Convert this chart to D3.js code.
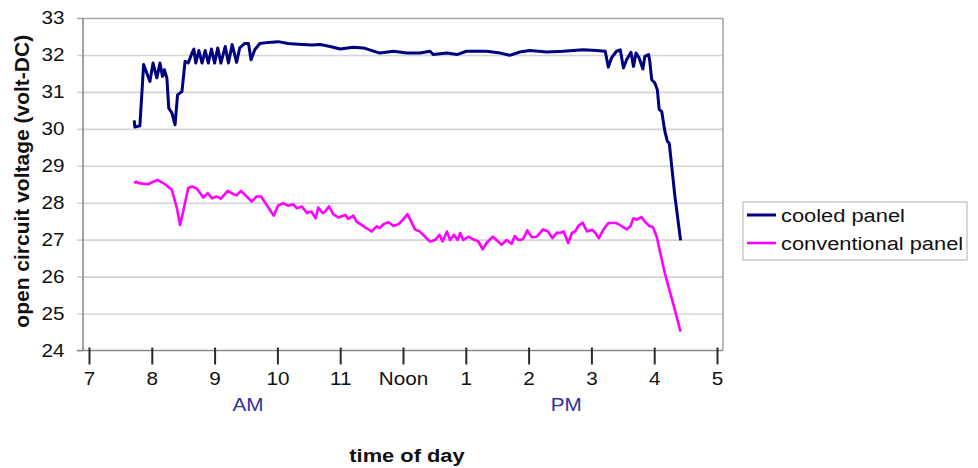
<!DOCTYPE html>
<html lang="en">
<head>
<meta charset="UTF-8">
<title>Open circuit voltage vs time of day</title>
<style>
  body { margin: 0; background: #fff; }
  svg text { font-family: Arial, "Liberation Sans", sans-serif; fill: #111; }
</style>
</head>
<body>
<svg id="chart" width="978" height="468"></svg>
<script src="https://d3js.org/d3.v7.min.js"></script>
<script>
    // tick values / labels
    const hourTicks = [7, 8, 9, 10, 11, 12, 13, 14, 15, 16, 17];
    const hourLabels = ["7", "8", "9", "10", "11", "Noon", "1", "2", "3", "4", "5"];
    const voltTicks = [24, 25, 26, 27, 28, 29, 30, 31, 32, 33];
    const periodNames = ["AM", "PM"];
    const periodHours = [9.53, 14.6];
    const seriesNames = ["cooled panel", "conventional panel"];

    // cooled panel (hours, volts)
    const cooledTime = [7.72, 7.73, 7.81, 7.87, 7.92, 7.97, 8.02, 8.08, 8.13, 8.17, 8.20, 8.24, 8.27, 8.32, 8.37,
        8.41, 8.48, 8.53, 8.58, 8.64, 8.67, 8.70, 8.75, 8.80, 8.85, 8.90, 8.95, 9.00, 9.05, 9.10, 9.17, 9.22,
        9.28, 9.35, 9.40, 9.48, 9.54, 9.58, 9.64, 9.72, 9.86, 10.01, 10.17, 10.33, 10.55, 10.68, 10.84, 11.00,
        11.21, 11.37, 11.63, 11.85, 12.06, 12.27, 12.43, 12.48, 12.70, 12.86, 13.01, 13.33, 13.55, 13.70, 13.86,
        14.02, 14.29, 14.55, 14.87, 15.08, 15.22, 15.27, 15.32, 15.40, 15.46, 15.51, 15.56, 15.63, 15.67, 15.71,
        15.76, 15.82, 15.85, 15.91, 15.93, 15.96, 16.01, 16.05, 16.08, 16.12, 16.17, 16.21, 16.24, 16.33, 16.42];
    const cooledVolts = [30.23, 30.05, 30.08, 31.74, 31.51, 31.28, 31.78, 31.38, 31.78, 31.42, 31.60, 31.38, 30.56, 30.43, 30.11,
        30.92, 31.01, 31.83, 31.78, 32.05, 32.16, 31.78, 32.12, 31.78, 32.12, 31.78, 32.16, 31.78, 32.19, 31.78, 32.23, 31.78,
        32.28, 31.80, 32.19, 32.31, 32.31, 31.87, 32.14, 32.31, 32.34, 32.36, 32.31, 32.29, 32.27, 32.28, 32.23, 32.16,
        32.21, 32.19, 32.05, 32.10, 32.05, 32.05, 32.10, 32.01, 32.05, 32.01, 32.10, 32.10, 32.05, 31.99, 32.08,
        32.12, 32.08, 32.10, 32.14, 32.12, 32.10, 31.67, 31.92, 32.10, 32.14, 31.65, 31.87, 32.07, 31.69, 32.05,
        31.92, 31.62, 31.96, 32.01, 31.83, 31.33, 31.24, 31.06, 30.52, 30.47, 29.93, 29.66, 29.61, 28.17, 26.98];

    // conventional panel (hours, volts)
    const conventionalTime = [7.72, 7.75, 7.79, 7.94, 8.09, 8.21, 8.32, 8.40, 8.45, 8.50, 8.58, 8.64, 8.72, 8.82, 8.89,
        8.96, 9.03, 9.10, 9.21, 9.30, 9.35, 9.42, 9.51, 9.59, 9.67, 9.74, 9.83, 9.94, 10.01, 10.09, 10.17, 10.25,
        10.31, 10.39, 10.47, 10.54, 10.61, 10.65, 10.72, 10.76, 10.82, 10.89, 10.97, 11.08, 11.13, 11.21, 11.26,
        11.34, 11.42, 11.50, 11.58, 11.63, 11.69, 11.77, 11.85, 11.93, 12.01, 12.07, 12.14, 12.19, 12.27, 12.35,
        12.43, 12.51, 12.58, 12.63, 12.70, 12.75, 12.81, 12.87, 12.91, 12.96, 13.04, 13.12, 13.20, 13.27, 13.33,
        13.43, 13.49, 13.57, 13.65, 13.73, 13.78, 13.84, 13.91, 13.98, 14.05, 14.13, 14.23, 14.31, 14.38, 14.45,
        14.50, 14.56, 14.63, 14.69, 14.74, 14.79, 14.86, 14.93, 15.01, 15.06, 15.12, 15.19, 15.27, 15.40, 15.48,
        15.56, 15.62, 15.67, 15.72, 15.76, 15.80, 15.85, 15.92, 15.98, 16.04, 16.17, 16.30, 16.42];
    const conventionalVolts = [28.53, 28.57, 28.53, 28.50, 28.62, 28.50, 28.35, 27.85, 27.40, 27.76, 28.40, 28.44, 28.38, 28.14, 28.26,
        28.12, 28.17, 28.11, 28.32, 28.23, 28.20, 28.32, 28.17, 28.03, 28.17, 28.17, 27.94, 27.65, 27.92, 27.99, 27.92, 27.96,
        27.85, 27.90, 27.72, 27.76, 27.58, 27.87, 27.72, 27.76, 27.90, 27.69, 27.60, 27.67, 27.56, 27.65, 27.49,
        27.40, 27.31, 27.22, 27.36, 27.31, 27.42, 27.47, 27.37, 27.42, 27.56, 27.69, 27.46, 27.28, 27.22, 27.08,
        26.95, 26.99, 27.13, 26.95, 27.22, 26.99, 27.13, 26.99, 27.18, 26.99, 27.08, 27.01, 26.95, 26.74, 26.91,
        27.08, 26.99, 26.86, 26.99, 26.89, 27.10, 26.99, 27.01, 27.25, 27.07, 27.08, 27.28, 27.22, 27.04, 27.19,
        27.18, 27.22, 26.91, 27.18, 27.22, 27.37, 27.46, 27.22, 27.27, 27.19, 27.04, 27.27, 27.45, 27.45, 27.37,
        27.28, 27.36, 27.58, 27.54, 27.58, 27.61, 27.49, 27.37, 27.34, 27.08, 26.09, 25.28, 24.51];

    const seriesColors = ["#000080", "#ff00ff"];
    const seriesWidths = [3, 2.6];
    const stretchX = 1.15; // the original text is a little wide

    const plot = {left: 83, right: 723, top: 18, bottom: 350.5};
    const svg = d3.select("#chart");

    const x = d3.scaleLinear().domain([7, 17]).range([plot.left + 6, plot.right - 6]);
    const y = d3.scaleLinear().domain([24, 33]).range([plot.bottom, plot.top]);

    // y axis + gridlines
    const yAxis = svg.append("g")
        .attr("transform", `translate(${plot.left},0)`)
        .call(d3.axisLeft(y).tickValues(voltTicks).tickSize(6).tickPadding(10));
    yAxis.select(".domain").remove();
    yAxis.selectAll(".tick line")
        .attr("x1", -6)
        .attr("x2", d => d === 24 ? 0 : plot.right - plot.left)
        .attr("stroke", d => d === 33 ? "#a8a8a8" : "#d4d4d4")
        .attr("stroke-width", 1.6);
    yAxis.selectAll(".tick text")
        .attr("font-size", 18)
        .attr("fill", "#111")
        .attr("transform", `scale(${stretchX},1)`);

    // plot frame
    svg.append("line")
        .attr("x1", plot.right).attr("x2", plot.right)
        .attr("y1", plot.top).attr("y2", plot.bottom)
        .attr("stroke", "#a8a8a8").attr("stroke-width", 1.6);
    svg.append("line")
        .attr("x1", plot.left).attr("x2", plot.left)
        .attr("y1", plot.top).attr("y2", plot.bottom)
        .attr("stroke", "#8a8a8a").attr("stroke-width", 1.6);

    // x axis
    const xAxis = svg.append("g")
        .attr("transform", `translate(0,${plot.bottom})`)
        .call(d3.axisBottom(x).tickValues(hourTicks).tickFormat((d, i) => hourLabels[i]).tickSize(14).tickPadding(8));
    xAxis.select(".domain")
        .attr("d", `M${plot.left - 6},0H${plot.right}`)
        .attr("stroke", "#8a8a8a").attr("stroke-width", 1.6);
    xAxis.selectAll(".tick line")
        .attr("y1", -3)
        .attr("stroke", "#2a2a2a").attr("stroke-width", 2);
    xAxis.selectAll(".tick text")
        .attr("font-size", 18)
        .attr("fill", "#111")
        .attr("transform", `scale(${stretchX},1)`);

    // AM / PM
    svg.selectAll(".period")
        .data(periodNames)
        .enter()
        .append("g")
        .attr("transform", (d, i) => `translate(${x(periodHours[i])},411)`)
        .append("text")
        .attr("class", "period")
        .attr("text-anchor", "middle")
        .attr("font-size", 18)
        .style("fill", "#333399")
        .attr("transform", `scale(${stretchX},1)`)
        .text(d => d);

    // axis titles
    svg.append("g")
        .attr("transform", `translate(${(plot.left + plot.right) / 2 + 4},462)`)
        .append("text")
        .attr("text-anchor", "middle")
        .attr("font-size", 19)
        .attr("font-weight", "bold")
        .attr("transform", `scale(${stretchX},1)`)
        .text("time of day");

    svg.append("text")
        .attr("transform", `translate(29,${(plot.top + plot.bottom) / 2 - 3}) rotate(-90)`)
        .attr("text-anchor", "middle")
        .attr("font-size", 21)
        .attr("font-weight", "bold")
        .text("open circuit voltage (volt-DC)");

    // lines
    const line = d3.line().x(d => x(d[0])).y(d => y(d[1]));
    const series = [
        d3.zip(cooledTime, cooledVolts),
        d3.zip(conventionalTime, conventionalVolts)
    ];
    svg.selectAll(".series")
        .data(series)
        .enter()
        .append("path")
        .attr("class", "series")
        .attr("fill", "none")
        .attr("stroke", (d, i) => seriesColors[i])
        .attr("stroke-width", (d, i) => seriesWidths[i])
        .attr("stroke-linejoin", "round")
        .attr("d", line);

    // legend
    const legend = svg.append("g").attr("transform", "translate(743,202)");
    legend.append("rect")
        .attr("width", 224).attr("height", 58)
        .attr("fill", "#fff")
        .attr("stroke", "#b0b0b0").attr("stroke-width", 1);
    const item = legend.selectAll(".item")
        .data(seriesNames)
        .enter()
        .append("g")
        .attr("class", "item")
        .attr("transform", (d, i) => `translate(0,${13 + i * 28})`);
    item.append("line")
        .attr("x1", 4).attr("x2", 33)
        .attr("stroke", (d, i) => seriesColors[i])
        .attr("stroke-width", (d, i) => seriesWidths[i]);
    item.append("g")
        .attr("transform", "translate(38,7)")
        .append("text")
        .attr("font-size", 19)
        .attr("transform", `scale(${stretchX},1)`)
        .text(d => d);
</script>
</body>
</html>
